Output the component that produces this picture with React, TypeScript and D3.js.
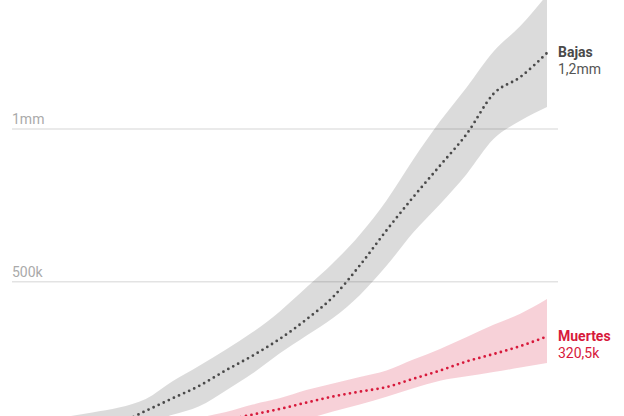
import * as d3 from 'd3';

// ── Data (values in thousands) ──

const steps = [0, 5, 10, 15, 20, 25, 30, 35, 40, 45, 50, 55, 60, 65, 70, 75, 80, 85, 90, 95, 100];

const bajasMid = [2, 8, 17, 27, 38, 77, 118, 159, 210, 258, 312, 376, 450, 553, 668, 777, 880, 984, 1115, 1170, 1249];
const bajasUpper = [20, 38, 57, 72, 88, 116, 174, 225, 278, 335, 402, 481, 561, 654, 766, 900, 1025, 1137, 1254, 1337, 1439];
const bajasLower = [0, 3, 6, 12, 22, 39, 64, 92, 144, 200, 265, 323, 381, 456, 552, 661, 754, 853, 967, 1027, 1072];

const muertesMid = [0, 2, 4, 7, 10, 14, 20, 30, 47, 65, 83, 104, 124, 140, 155, 182, 209, 239, 263, 289, 320.5];
const muertesUpper = [1, 4, 8, 13, 19, 27, 37, 55, 73, 98, 118, 145, 167, 188, 209, 245, 280, 319, 359, 395, 443];
const muertesLower = [0, 1, 2, 3, 5, 7, 9, 13, 21, 35, 45, 52, 75, 98, 123, 151, 176, 190, 204, 219, 234];

const gridValues = [500, 1000];
const gridLabels = ['500k', '1mm'];

const seriesNames = ['Bajas', 'Muertes'];
const seriesEndLabels = ['1,2mm', '320,5k'];

// ── Layout ──

const W = 624;
const H = 416;
const FONT = 'Roboto, "Noto Sans", sans-serif';
const RED = '#d7193b';
const DARK = '#4a4a4a';

const x = d3.scaleLinear().domain([0, 100]).range([12, 547]);
const y = d3.scaleLinear().domain([0, 1000]).range([434.4, 129]);

type Row = { t: number; mid: number; lo: number; hi: number };

function rows(mid: number[], lo: number[], hi: number[]): Row[] {
  return steps.map((t, i) => ({ t, mid: mid[i], lo: lo[i], hi: hi[i] }));
}

const bajas = rows(bajasMid, bajasLower, bajasUpper);
const muertes = rows(muertesMid, muertesLower, muertesUpper);

const area = d3
  .area<Row>()
  .x((d) => x(d.t))
  .y0((d) => y(d.lo))
  .y1((d) => y(d.hi))
  .curve(d3.curveMonotoneX);

const line = d3
  .line<Row>()
  .x((d) => x(d.t))
  .y((d) => y(d.mid))
  .curve(d3.curveMonotoneX);

export default function App() {
  const series = [
    { data: bajas, band: '#000', bandOpacity: 0.14, dot: DARK, label: DARK, value: '#555' },
    { data: muertes, band: RED, bandOpacity: 0.2, dot: RED, label: RED, value: RED },
  ];

  return (
    <svg
      width={W}
      height={H}
      style={{ position: 'absolute', left: 0, top: 0, overflow: 'hidden', background: '#fff' }}
      fontFamily={FONT}
    >
      {/* gridlines */}
      {gridValues.map((v, i) => (
        <g key={v}>
          <line x1={12} x2={558} y1={y(v)} y2={y(v)} stroke="#e3e3e3" strokeWidth={1.5} />
          <text x={12} y={y(v) - 5} fontSize={14} fill="#aaaaaa">
            {gridLabels[i]}
          </text>
        </g>
      ))}

      {/* bands */}
      {series.map((s, i) => (
        <path key={'band' + i} d={area(s.data) || ''} fill={s.band} fillOpacity={s.bandOpacity} />
      ))}

      {/* dotted central lines */}
      {series.map((s, i) => (
        <path
          key={'line' + i}
          d={line(s.data) || ''}
          fill="none"
          stroke={s.dot}
          strokeWidth={2.8}
          strokeLinecap="round"
          strokeDasharray="0 5.6"
        />
      ))}

      {/* end labels */}
      {series.map((s, i) => {
        const last = s.data[s.data.length - 1];
        const ly = y(last.mid);
        return (
          <g key={'lab' + i}>
            <text x={x(100) + 11} y={ly + 4.5} fontSize={14} fontWeight={700} fill={s.label}>
              {seriesNames[i]}
            </text>
            <text x={x(100) + 11} y={ly + 21.5} fontSize={14} fill={s.value}>
              {seriesEndLabels[i]}
            </text>
          </g>
        );
      })}
    </svg>
  );
}
